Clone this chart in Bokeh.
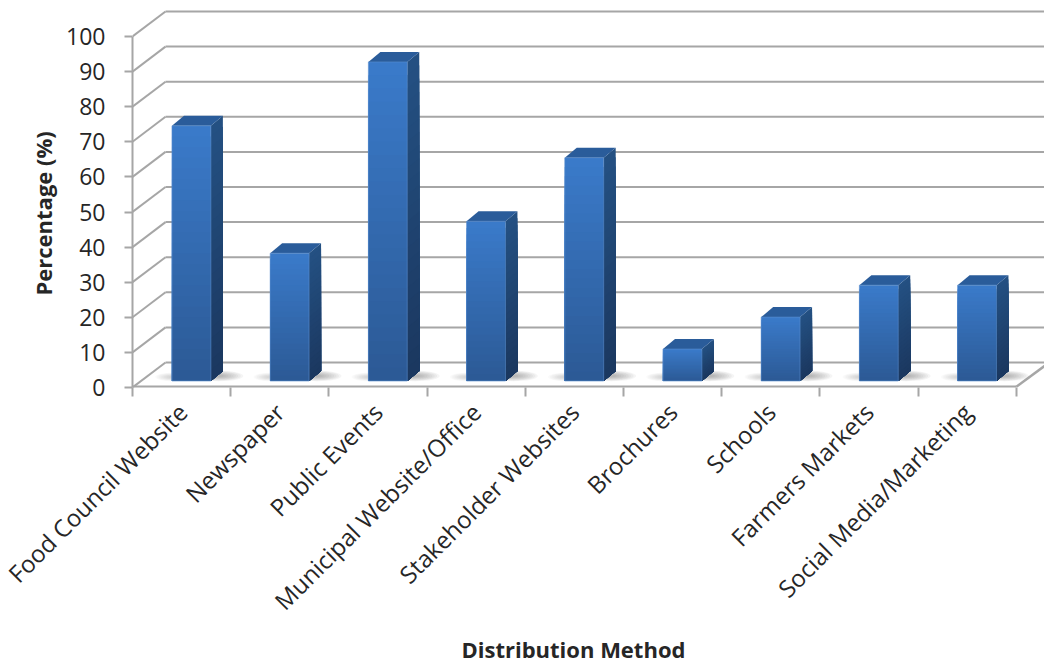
from bokeh.embed import file_html
from bokeh.models import FixedTicker, Title
from bokeh.plotting import figure
from bokeh.resources import INLINE

# Survey results by distribution method
categories = ["Food Council Website", "Newspaper", "Public Events",
              "Municipal Website/Office", "Stakeholder Websites", "Brochures",
              "Schools", "Farmers Markets", "Social Media/Marketing"]
percentages = [72.7, 36.4, 90.9, 45.5, 63.6, 9.1, 18.2, 27.3, 27.3]
value_ticks = list(range(0, 101, 10))

FONT = "Open Sans"
GRID = "#a6a6a6"
TEXT = "#262626"

# Frame layout in pixels
WIDTH, HEIGHT = 1044, 664
LEFT, BASE = 132, 387
CAT_PX = 98.2
UNIT_PX = 3.51

# 3D projection offsets, in data units
WALL_DX, WALL_DY = 33 / CAT_PX, 25 / UNIT_PX
BAR_DX, BAR_DY = 12 / CAT_PX, 10 / UNIT_PX
BAR_SHIFT, BAR_HALF = 0.6, 0.198
BAR_FLOOR = 6.5 / UNIT_PX
X_MAX = (WIDTH - LEFT) / CAT_PX
N = len(categories)

p = figure(width=WIDTH, height=HEIGHT, output_backend="svg", toolbar_location=None,
           x_range=(0, X_MAX), y_range=(0, BASE / UNIT_PX),
           min_border_left=LEFT, min_border_right=0, min_border_top=0,
           min_border_bottom=HEIGHT - BASE, outline_line_color=None,
           background_fill_color="white", border_fill_color="white")
p.grid.visible = False

# Value axis
ya = p.yaxis[0]
ya.ticker = FixedTicker(ticks=value_ticks)
ya.bounds = (0, 100)
ya.axis_line_color = GRID
ya.axis_line_width = 2
ya.major_tick_line_color = GRID
ya.major_tick_line_width = 2
ya.major_tick_out = 8
ya.major_tick_in = 0
ya.minor_tick_line_color = None
ya.major_label_text_font = FONT
ya.major_label_text_font_size = "23px"
ya.major_label_text_color = TEXT
ya.major_label_standoff = 19

# Category axis: labels sit on major ticks, boundaries are the minor ticks
xa = p.xaxis[0]
xa.ticker = FixedTicker(ticks=[i + 0.5 for i in range(N)],
                        minor_ticks=list(range(N + 1)))
xa.major_label_overrides = {i + 0.5: c for i, c in enumerate(categories)}
xa.major_label_orientation = 0.785
xa.major_label_text_font = FONT
xa.major_label_text_font_size = "24px"
xa.major_label_text_color = TEXT
xa.major_label_standoff = 11
xa.axis_line_color = None
xa.major_tick_line_color = None
xa.major_tick_out = 0
xa.major_tick_in = 0
xa.minor_tick_line_color = GRID
xa.minor_tick_line_width = 2
xa.minor_tick_out = 9
xa.minor_tick_in = 0

# Back wall and side wall rules
p.segment(x0=[WALL_DX] * len(value_ticks), y0=[v + WALL_DY for v in value_ticks],
          x1=[X_MAX] * len(value_ticks), y1=[v + WALL_DY for v in value_ticks],
          line_color=GRID, line_width=2)
p.segment(x0=[0] * len(value_ticks), y0=value_ticks,
          x1=[WALL_DX] * len(value_ticks), y1=[v + WALL_DY for v in value_ticks],
          line_color=GRID, line_width=2)

# Floor edges
p.segment(x0=[0, N], y0=[0.2, 0.2], x1=[N, N + WALL_DX], y1=[0.2, WALL_DY],
          line_color=GRID, line_width=2.5)

# Soft floor shadows either side of each bar
for i in range(N):
    cx = i + BAR_SHIFT
    for k in range(9):
        spread = 1 - k / 10
        p.ellipse(x=[cx + BAR_HALF + 0.08], y=[3.3],
                  width=0.5 * spread, height=3.0 * spread,
                  fill_color="#707070", fill_alpha=0.07, line_color=None)
        p.ellipse(x=[cx - BAR_HALF], y=[3.0],
                  width=0.34 * spread, height=2.4 * spread,
                  fill_color="#808080", fill_alpha=0.04, line_color=None)


def blend(a, b, t):
    rgb = [round(a[j] + (b[j] - a[j]) * t) for j in range(3)]
    return "#%02x%02x%02x" % tuple(rgb)


FRONT_TOP, FRONT_BOTTOM = (58, 122, 201), (44, 90, 150)
SIDE_TOP, SIDE_BOTTOM = (36, 80, 130), (27, 56, 96)
ROOF = "#2a5c9a"
STEPS = 24

for i, v in enumerate(percentages):
    x0, x1 = i + BAR_SHIFT - BAR_HALF, i + BAR_SHIFT + BAR_HALF
    bottom, top = BAR_FLOOR, BAR_FLOOR + v
    step = v / STEPS
    # Each band runs down to the floor and the next one paints over it,
    # which gives a vertical gradient without seams between bands
    for s in range(STEPS):
        t = s / (STEPS - 1)
        y_hi = top - s * step
        p.quad(left=x0, right=x1, bottom=bottom, top=y_hi,
               fill_color=blend(FRONT_TOP, FRONT_BOTTOM, t), line_color=None)
        p.patch(x=[x1, x1 + BAR_DX, x1 + BAR_DX, x1],
                y=[y_hi, y_hi + BAR_DY, bottom + BAR_DY, bottom],
                fill_color=blend(SIDE_TOP, SIDE_BOTTOM, t), line_color=None)
    p.patch(x=[x0, x0 + BAR_DX, x1 + BAR_DX, x1],
            y=[top, top + BAR_DY, top + BAR_DY, top],
            fill_color=ROOF, line_color=None)
    p.quad(left=x0, right=x1, bottom=bottom, top=top, fill_color=None,
           line_color="#5b8fd0", line_width=1, line_alpha=0.6)

# Axis titles sit in the side panels, off-centre along their axes
p.add_layout(Title(text="Distribution Method", align="left", offset=329, standoff=0,
                   text_font=FONT, text_font_style="bold",
                   text_font_size="22px", text_color=TEXT), "below")
p.add_layout(Title(text="Percentage (%)", align="left", offset=92, standoff=12,
                   text_font=FONT, text_font_style="bold",
                   text_font_size="22px", text_color=TEXT), "left")

open("out.html", "w").write(file_html(p, INLINE))
